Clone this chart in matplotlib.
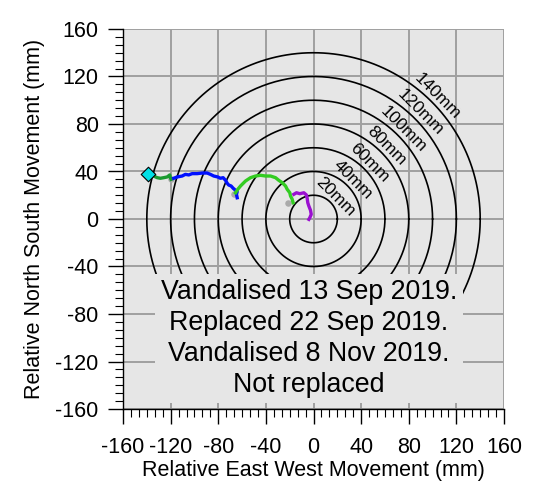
import numpy as np
import matplotlib
matplotlib.use("Agg")
import matplotlib.pyplot as plt
from matplotlib.ticker import MultipleLocator

plt.rcParams['font.family'] = ['Liberation Sans', 'DejaVu Sans']
plt.rcParams['axes.unicode_minus'] = False

# ---- data ----
start_point = (-139, 38)
seg1_x = [-139, -136.4, -134.2, -131.3, -128.6, -125.8, -122.9, -120.7, -120.2, -119.6]
seg1_y = [38, 37.6, 36.2, 34.8, 34.3, 34.8, 35.4, 37.1, 34.8, 33.4]
seg2_x = [-117.4, -114.5, -110.3, -107.6, -104.8, -101.9, -97.7, -93.5, -89.3, -86.6, -83.8,
          -80.4, -78.2, -75.9, -73.9, -72.5, -71.2, -69.2, -67.5, -65.5, -64.1, -64.7, -64.1]
seg2_y = [34.3, 35.4, 36.2, 37.6, 37.1, 38.2, 38.2, 38.7, 38.7, 37.6, 36.2,
          35.4, 34.3, 34.8, 32.6, 30.1, 28.6, 27.8, 25.9, 24.2, 23.0, 20.8, 17.9]
seg3_x = [-65.5, -63.6, -61.3, -57.1, -52.9, -48.7, -44.5, -40.3, -36.1, -31.9, -29.2,
          -26.3, -23.5, -22.1, -19.9, -19.3, -17.9, -17.1]
seg3_y = [22.1, 25.0, 27.8, 32.0, 34.8, 36.2, 36.8, 36.2, 36.2, 34.8, 32.6,
          30.6, 27.8, 25.0, 22.1, 19.4, 16.6, 13.7]
seg4_x = [-16.5, -14.3, -11.5, -8.1, -5.9, -5.3, -4.8, -3.9, -2.5, -1.9, -3.1, -3.9]
seg4_y = [20.8, 22.1, 21.3, 22.1, 20.2, 17.4, 13.7, 10.9, 7.3, 3.9, 1.1, -0.3]
gray_x = [-119.6, -67.0, -21.3]
gray_y = [33.4, 21.3, 13.2]
radii = [20, 40, 60, 80, 100, 120, 140]
ticks = [-160, -120, -80, -40, 0, 40, 80, 120, 160]
note = "Vandalised 13 Sep 2019.\nReplaced 22 Sep 2019.\nVandalised 8 Nov 2019.\nNot replaced"

bg = '#e6e6e6'
fig = plt.figure(figsize=(5.47, 4.86), dpi=100)
ax = fig.add_axes([123/547, 1-409/486, 381/547, 380/486])
ax.set_facecolor(bg)
ax.set_xlim(-160, 160)
ax.set_ylim(-160, 160)

# grid
ax.set_xticks(ticks)
ax.set_yticks(ticks)
ax.set_xticklabels([str(t) for t in ticks])
ax.set_yticklabels([str(t) for t in ticks])
ax.xaxis.set_minor_locator(MultipleLocator(40/6))
ax.yaxis.set_minor_locator(MultipleLocator(40/6))
ax.grid(True, which='major', color='#a0a0a0', linewidth=1.4, zorder=0)
ax.set_axisbelow(True)

# circles
th = np.linspace(0, 2*np.pi, 400)
for r in radii:
    ax.plot(r*np.cos(th), r*np.sin(th), color='black', lw=1.2, zorder=2)
    rr = r + 6.5
    ax.text(rr*np.cos(np.pi/4), rr*np.sin(np.pi/4), f"{r}mm", rotation=-45,
            ha='center', va='center', fontsize=12.5, zorder=3, rotation_mode='anchor')

# movement traces
ax.plot(seg1_x, seg1_y, color='#1a9a30', lw=2.4, zorder=4)
ax.plot(seg2_x, seg2_y, color='#0010ff', lw=2.4, zorder=4)
ax.plot(seg3_x, seg3_y, color='#33cc22', lw=2.4, zorder=4)
ax.plot(seg4_x, seg4_y, color='#9a10d0', lw=2.4, zorder=4)
ax.scatter(gray_x, gray_y, s=22, color='#aaaaaa', zorder=3.5, linewidths=0)
ax.scatter([start_point[0]], [start_point[1]], marker='D', s=55, color='#00e0e6',
           edgecolors='black', linewidths=0.8, zorder=5)

# annotation
ax.text(-4, -100.5, note, ha='center', va='center', fontsize=19.3, linespacing=1.24,
        zorder=6, bbox=dict(facecolor=bg, edgecolor='none', pad=4))

for s in ['top', 'right']:
    ax.spines[s].set_visible(False)
ax.spines['left'].set_linewidth(1.0)
ax.spines['bottom'].set_linewidth(1.0)
ax.tick_params(which='major', direction='out', length=11, width=1.0, labelsize=15.5)
ax.tick_params(axis='x', which='major', pad=9.0)
ax.tick_params(axis='y', which='major', pad=6.5)
ax.tick_params(which='minor', direction='out', length=5.8, width=0.8)

ax.set_xlabel("Relative East West Movement (mm)", fontsize=15.5, labelpad=1.5)
ax.set_ylabel("Relative North South Movement (mm)", fontsize=15.5)
ax.yaxis.set_label_coords(-0.205, 0.5)

fig.savefig("out.png", dpi=100)
